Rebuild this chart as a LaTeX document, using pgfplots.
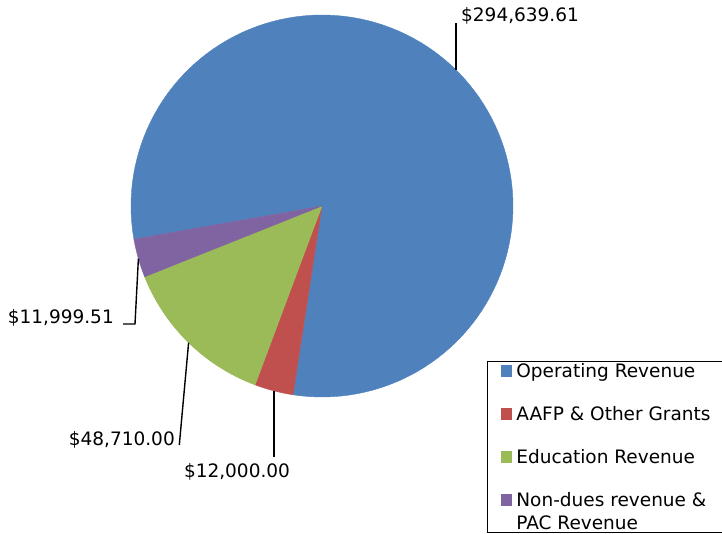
\documentclass[border=0pt]{standalone}
\usepackage{pgfplots}
\pgfplotsset{compat=1.18}
\usepackage{fontspec}
\setmainfont{DejaVu Sans}
\definecolor{cA}{HTML}{4F81BD}
\definecolor{cB}{HTML}{C0504D}
\definecolor{cC}{HTML}{9BBB59}
\definecolor{cD}{HTML}{8064A2}
\newcommand\lblfont{\fontsize{18.5}{23}\selectfont}
% data
\def\vA{294639.61}
\def\vB{12000.00}
\def\vC{48710.00}
\def\vD{11999.51}
\edef\tot{\fpeval{\vA+\vB+\vC+\vD}}
\def\aA{190}
\edef\aB{\fpeval{round(\aA-360*\vA/\tot,4)}}
\edef\aC{\fpeval{round(\aB-360*\vB/\tot,4)}}
\edef\aD{\fpeval{round(\aC-360*\vC/\tot,4)}}
\edef\aE{\fpeval{round(\aD-360*\vD/\tot,4)}}
\begin{document}
\begin{tikzpicture}
\useasboundingbox (0,0) rectangle (722pt,533pt);
\clip (0,0) rectangle (722pt,533pt);
\begin{axis}[
  at={(0,0)}, anchor=south west,
  scale only axis, width=722pt, height=533pt,
  xmin=0, xmax=722, ymin=0, ymax=533,
  hide axis, clip=false,
  legend style={at={(487/722,172/533)}, anchor=north west, draw=black,
    line width=0.8pt, inner xsep=14pt, inner ysep=3pt, row sep=26pt,
    column sep=4pt, font=\lblfont, cells={anchor=base west},
    nodes={inner sep=0pt, text height=13pt, text depth=4pt}},
  legend image code/.code={\fill[#1, draw=none] (0pt,0pt) rectangle (11pt,12pt);},
]
\addplot[fill=cA, draw=cA, line width=0.4pt, line join=round, domain=\aB:\aA, samples=120, variable=\t]
  ({322+191*cos(\t)},{327+191*sin(\t)}) -- (axis cs:322,327) -- cycle;
\addlegendentry{Operating Revenue}
\addplot[fill=cB, draw=cB, line width=0.4pt, line join=round, domain=\aC:\aB, samples=20, variable=\t]
  ({322+191*cos(\t)},{327+191*sin(\t)}) -- (axis cs:322,327) -- cycle;
\addlegendentry{AAFP \& Other Grants}
\addplot[fill=cC, draw=cC, line width=0.4pt, line join=round, domain=\aD:\aC, samples=40, variable=\t]
  ({322+191*cos(\t)},{327+191*sin(\t)}) -- (axis cs:322,327) -- cycle;
\addlegendentry{Education Revenue}
\addplot[fill=cD, draw=cD, line width=0.4pt, line join=round, domain=\aE:\aD, samples=20, variable=\t]
  ({322+191*cos(\t)},{327+191*sin(\t)}) -- (axis cs:322,327) -- cycle;
\addlegendentry[text depth=23pt]{\begin{tabular}[t]{@{}l@{}}Non-dues revenue \&\\PAC Revenue\end{tabular}}
% leader lines
\addplot[black, line width=1.4pt, forget plot] coordinates {(456,463) (456,510)};
\addplot[black, line width=1.4pt, forget plot] coordinates {(138.4,274.4) (135,209) (123,209)};
\addplot[black, line width=1.4pt, forget plot] coordinates {(188.6,190.3) (179.3,88)};
\addplot[black, line width=1.4pt, forget plot] coordinates {(274,142.2) (274,76.3)};
% data labels
\node[anchor=base west, inner sep=0pt, font=\lblfont] at (axis cs:461,511) {\$294,639.61};
\node[anchor=base east, inner sep=0pt, font=\lblfont] at (axis cs:114,209) {\$11,999.51};
\node[anchor=base east, inner sep=0pt, font=\lblfont] at (axis cs:175,88) {\$48,710.00};
\node[anchor=base, inner sep=0pt, font=\lblfont] at (axis cs:237,56) {\$12,000.00};
\end{axis}
\end{tikzpicture}
\end{document}
